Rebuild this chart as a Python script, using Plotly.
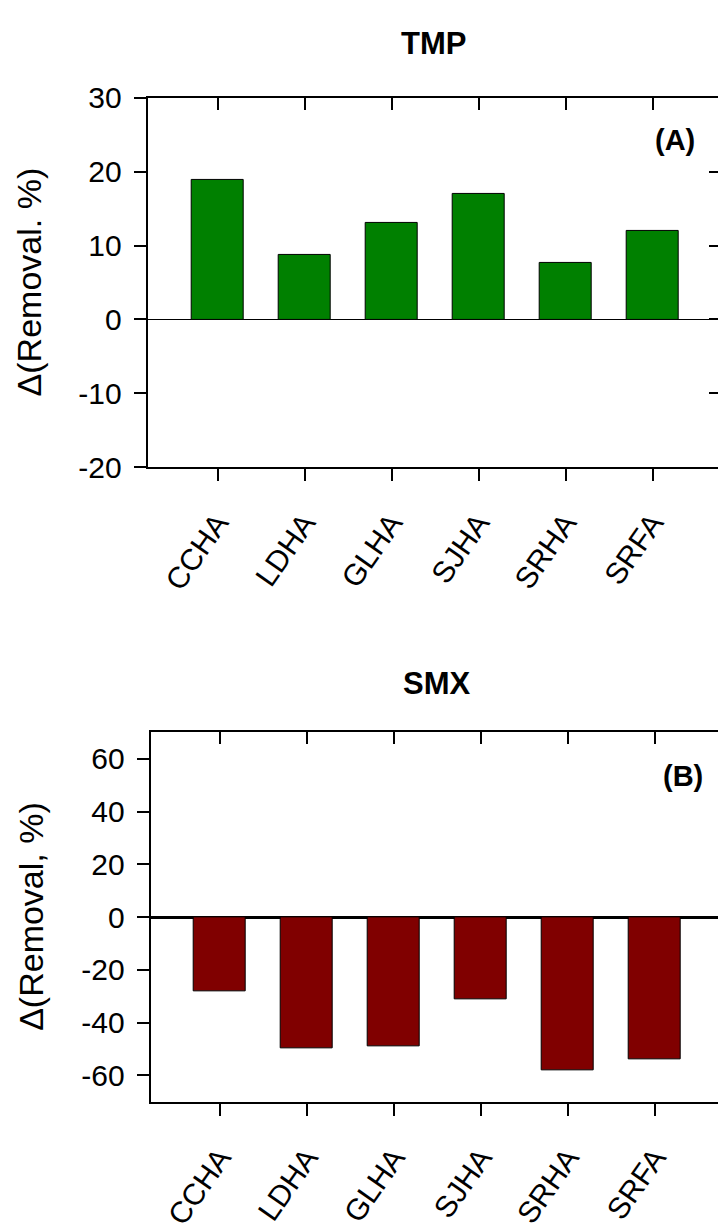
import plotly.graph_objects as go

categories = ["CCHA", "LDHA", "GLHA", "SJHA", "SRHA", "SRFA"]
tmp_values = [18.9, 8.8, 13.1, 17.0, 7.6, 12.0]
smx_values = [-28.0, -49.8, -48.8, -31.3, -58.2, -53.8]
tmp_ticks = [-20, -10, 0, 10, 20, 30]
smx_ticks = [-60, -40, -20, 0, 20, 40, 60]
tmp_ticktext = [str(v) for v in tmp_ticks]
smx_ticktext = [str(v) for v in smx_ticks]

FONT = "Liberation Sans, Arial, sans-serif"
W, H = 718, 1231
green = "#008000"
darkred = "#800000"

fig = go.Figure()
fig.add_trace(go.Bar(x=categories, y=tmp_values, xaxis="x", yaxis="y", width=0.6,
                     marker=dict(color=green, line=dict(color="black", width=1))))
fig.add_trace(go.Bar(x=categories, y=smx_values, xaxis="x2", yaxis="y2", width=0.6,
                     marker=dict(color=darkred, line=dict(color="black", width=1))))
# helper traces for mirrored axes
fig.add_trace(go.Scatter(x=[None], y=[None], xaxis="x3", yaxis="y3", showlegend=False, hoverinfo="skip"))
fig.add_trace(go.Scatter(x=[None], y=[None], xaxis="x4", yaxis="y2", showlegend=False, hoverinfo="skip"))

top_dom = [1 - 467.3 / H, 1 - 84 / H]
bot_dom = [1 - 1126 / H, 1 - 742.5 / H]
xr_top = [(147.7 - 217.5) / 87, (718 - 217.5) / 87]
xr_bot = [(150.7 - 220) / 87, (718 - 220) / 87]

axline = dict(showline=True, linecolor="black", linewidth=2.2, showgrid=False,
              tickcolor="black", tickwidth=2, ticklen=12)
tickfont = dict(family=FONT, size=30, color="black")

fig.update_layout(
    width=W, height=H, margin=dict(l=0, r=0, t=0, b=0),
    paper_bgcolor="white", plot_bgcolor="white", showlegend=False, bargap=0,
    font=dict(family=FONT, color="black"),
    xaxis=dict(domain=[147.7 / W, 1], anchor="y", type="category", range=xr_top,
               ticks="outside", tickangle=-55, tickfont=tickfont, ticklabelstandoff=12,
               zeroline=False, **axline),
    yaxis=dict(domain=top_dom, anchor="x", range=[-20, 30], tickvals=tmp_ticks, ticktext=tmp_ticktext,
               ticks="outside", tickfont=tickfont, ticklabelstandoff=6,
               zeroline=True, zerolinecolor="black", zerolinewidth=1.3, **axline),
    xaxis3=dict(domain=[147.7 / W, 1], anchor="y", overlaying="x", side="top", type="linear",
                range=xr_top, tickvals=list(range(len(categories))), ticks="inside",
                showticklabels=False, zeroline=False, **axline),
    yaxis3=dict(domain=top_dom, anchor="x", overlaying="y", side="right", range=[-20, 30],
                tickvals=tmp_ticks, ticks="inside", showticklabels=False, zeroline=False,
                showline=False, showgrid=False, tickcolor="black", tickwidth=2, ticklen=9),
    xaxis2=dict(domain=[150.7 / W, 1], anchor="y2", type="category", range=xr_bot,
                ticks="outside", tickangle=-55, tickfont=tickfont, ticklabelstandoff=12,
                zeroline=False, **axline),
    yaxis2=dict(domain=bot_dom, anchor="x2", range=[-70, 70], tickvals=smx_ticks, ticktext=smx_ticktext,
                ticks="outside", tickfont=tickfont, ticklabelstandoff=6,
                zeroline=True, zerolinecolor="black", zerolinewidth=2.6, **axline),
    xaxis4=dict(domain=[150.7 / W, 1], anchor="y2", overlaying="x2", side="top", type="linear",
                range=xr_bot, tickvals=list(range(len(categories))), ticks="inside",
                showticklabels=False, zeroline=False, **axline),
)

ann = [
    dict(text="<b>TMP</b>", x=433 / W, y=1 - 28 / H, font=dict(size=31)),
    dict(text="<b>SMX</b>", x=437 / W, y=1 - 692 / H, font=dict(size=31)),
    dict(text="<b>(A)</b>", x=697 / W, y=1 - 127.5 / H, xanchor="right", font=dict(size=29)),
    dict(text="<b>(B)</b>", x=705 / W, y=1 - 788 / H, xanchor="right", font=dict(size=29)),
    dict(text="\u0394(Removal. %)", x=29 / W, y=1 - 275.5 / H, textangle=-90, font=dict(size=34)),
    dict(text="\u0394(Removal, %)", x=31 / W, y=1 - 934 / H, textangle=-90, font=dict(size=34)),
]
for a in ann:
    a.setdefault("xanchor", "center")
    fig.add_annotation(xref="paper", yref="paper", showarrow=False, yanchor="middle",
                       font=dict(family=FONT, color="black", size=a["font"]["size"]),
                       **{k: v for k, v in a.items() if k != "font"})

fig.write_html("out.html")
